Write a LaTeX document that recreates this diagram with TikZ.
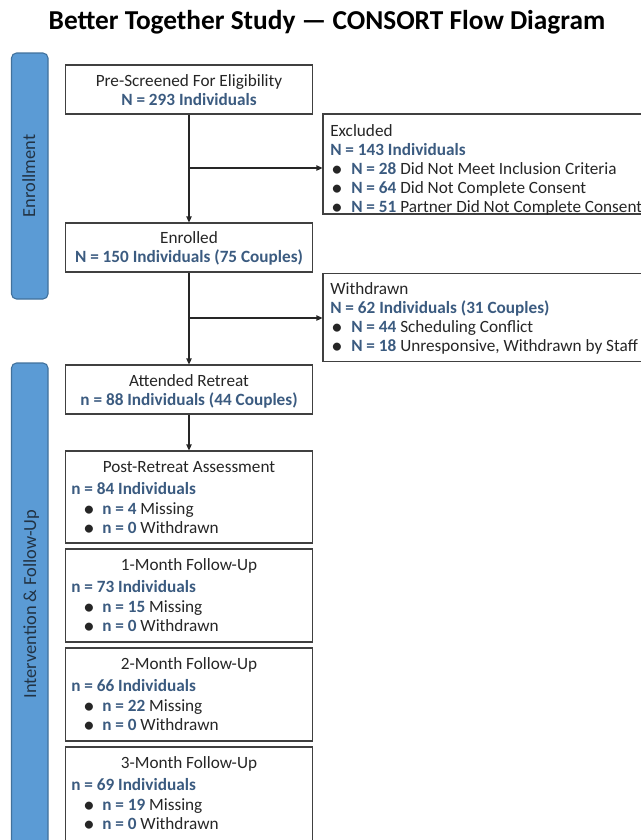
\documentclass[tikz,border=0pt]{standalone}
\usepackage{fontspec}
\setmainfont{Carlito}
\usetikzlibrary{arrows.meta}
\newdimen\pxsize
\setlength{\pxsize}{0.75pt}
\definecolor{numblue}{HTML}{3B5B80}
\definecolor{barblue}{HTML}{5B9BD5}
\definecolor{barline}{HTML}{41719C}
\definecolor{boxline}{HTML}{404040}
\definecolor{txtgray}{HTML}{262626}
\definecolor{bartext}{HTML}{223344}
\newcommand{\cnt}[1]{\textcolor{numblue}{\textbf{#1}}}
\newcommand{\dotmark}{{\fontsize{17}{17}\selectfont\textbullet}}
\tikzset{
  stagebar/.style={draw=barline, fill=barblue, line width=0.8pt, rounded corners=5\pxsize},
  barlbl/.style={inner sep=0pt, text=bartext, rotate=90, anchor=mid, font=\fontsize{13.8}{16}\selectfont},
  flowbox/.style={draw=boxline, line width=0.8pt, fill=white, inner sep=0pt},
  lbl/.style={inner sep=0pt, yshift=-2.5*\pxsize, text=txtgray, font=\fontsize{12.9}{15}\selectfont},
  flowline/.style={draw=black!85, line width=0.9pt, -{Triangle[length=4.5pt,width=4pt]}},
}
\begin{document}
\begin{tikzpicture}[x=\pxsize,y=-\pxsize]
\useasboundingbox (0,0) rectangle (641,840);
\clip (0,0) rectangle (641,840);
\node[font=\bfseries\fontsize{20.5}{24}\selectfont] (title) at (327,22) {Better Together Study — CONSORT Flow Diagram};
% stage bars
\node[stagebar, minimum width=36.5*\pxsize, minimum height=246*\pxsize] (enrolbar) at (29.75,176) {};
\node[barlbl] (enrollbl) at (32,176) {Enrollment};
\node[stagebar, minimum width=36.5*\pxsize, minimum height=507*\pxsize] (followbar) at (29.75,616.5) {};
\node[barlbl] (followlbl) at (33,604) {Intervention \& Follow-Up};
% main column
\node[flowbox, minimum width=247*\pxsize, minimum height=49*\pxsize] (prescreen) at (189,89.5) {};
\node[lbl, anchor=mid] (prescreen-t) at (189,81) {Pre-Screened For Eligibility};
\node[lbl, anchor=mid] (prescreen-n) at (189,100) {\cnt{N = 293 Individuals}};
\node[flowbox, minimum width=247*\pxsize, minimum height=49*\pxsize] (enrolled) at (189,247.5) {};
\node[lbl, anchor=mid] (enrolled-t) at (189,238) {Enrolled};
\node[lbl, anchor=mid] (enrolled-n) at (189,257) {\cnt{N = 150 Individuals (75 Couples)}};
\node[flowbox, minimum width=247*\pxsize, minimum height=49*\pxsize] (retreat) at (189,389.5) {};
\node[lbl, anchor=mid] (retreat-t) at (189,381) {Attended Retreat};
\node[lbl, anchor=mid] (retreat-n) at (189,400) {\cnt{n = 88 Individuals (44 Couples)}};
% side boxes
\node[flowbox, minimum width=400*\pxsize, minimum height=100*\pxsize] (excluded) at (523,164) {};
\node[lbl, anchor=mid west] (excluded-t) at (330,131) {Excluded};
\node[lbl, anchor=mid west] (excluded-n) at (330,150) {\cnt{N = 143 Individuals}};
\foreach \xrow/\xnum/\xwhy in {1/28/Did Not Meet Inclusion Criteria, 2/64/Did Not Complete Consent, 3/51/Partner Did Not Complete Consent}{
  \node[lbl, anchor=center] (excluded-b\xrow) at (337,150+19*\xrow) {\dotmark};
  \node[lbl, anchor=mid west] (excluded-r\xrow) at (351,150+19*\xrow) {\cnt{N = \xnum} \xwhy};
}
\node[flowbox, minimum width=400*\pxsize, minimum height=88.5*\pxsize] (withdrawn) at (523,317.5) {};
\node[lbl, anchor=mid west] (withdrawn-t) at (330,289) {Withdrawn};
\node[lbl, anchor=mid west] (withdrawn-n) at (330,308) {\cnt{N = 62 Individuals (31 Couples)}};
\foreach \wrow/\wnum/\wwhy in {1/44/Scheduling Conflict, 2/18/{Unresponsive, Withdrawn by Staff}}{
  \node[lbl, anchor=center] (withdrawn-b\wrow) at (337,308+19*\wrow) {\dotmark};
  \node[lbl, anchor=mid west] (withdrawn-r\wrow) at (351,308+19*\wrow) {\cnt{N = \wnum} \wwhy};
}
% follow-up boxes
\foreach \fu/\futop/\fubot/\funame/\funum/\fumiss in {post/451/543/Post-Retreat Assessment/84/4, m1/549/642/1-Month Follow-Up/73/15, m2/648/741/2-Month Follow-Up/66/22, m3/747/870/3-Month Follow-Up/69/19}{
  \pgfmathsetmacro{\fumid}{(\futop+\fubot)/2}
  \pgfmathsetmacro{\fuht}{\fubot-\futop}
  \node[flowbox, minimum width=247*\pxsize, minimum height=\fuht*\pxsize] (\fu) at (189,\fumid) {};
  \node[lbl, anchor=mid] (\fu-t) at (189,\futop+16) {\funame};
  \node[lbl, anchor=mid west] (\fu-n) at (71,\futop+38) {\cnt{n = \funum{} Individuals}};
  \node[lbl, anchor=center] (\fu-b1) at (89,\futop+57.5) {\dotmark};
  \node[lbl, anchor=mid west] (\fu-r1) at (102,\futop+57.5) {\cnt{n = \fumiss} Missing};
  \node[lbl, anchor=center] (\fu-b2) at (89,\futop+77) {\dotmark};
  \node[lbl, anchor=mid west] (\fu-r2) at (102,\futop+77) {\cnt{n = 0} Withdrawn};
}
% connectors
\coordinate (split1) at (189,168);
\coordinate (split2) at (189,318);
\draw[flowline] (prescreen.south) -- (enrolled.north);
\draw[flowline] (split1) -- (split1 -| excluded.west);
\draw[flowline] (enrolled.south) -- (retreat.north);
\draw[flowline] (split2) -- (split2 -| withdrawn.west);
\draw[flowline] (retreat.south) -- (post.north);
\end{tikzpicture}
\end{document}
